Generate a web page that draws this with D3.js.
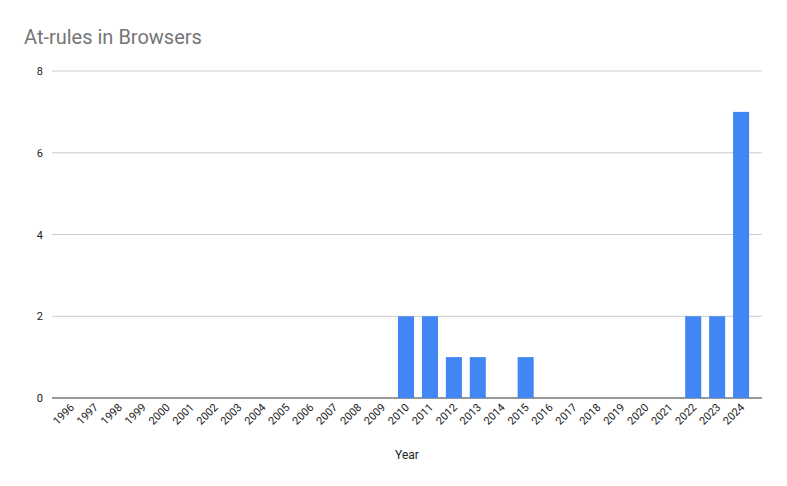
<!DOCTYPE html>
<html>
<head>
<script src="https://d3js.org/d3.v7.min.js"></script>
<style>body{margin:0;background:#fff}</style>
</head>
<body>
<svg id="chart" width="787" height="486"></svg>
<script>
  var years = d3.range(1996, 2025).map(String);
  var counts = [0,0,0,0,0,0,0,0,0,0,0,0,0,0,2,2,1,1,0,1,0,0,0,0,0,0,2,2,7];
  var yTicks = [0, 2, 4, 6, 8];

  var svg = d3.select('#chart');
  var x = d3.scaleBand().domain(years).range([55, 757]).padding(0.33);
  var y = d3.scaleLinear().domain([0, 8]).range([398, 71]);

  svg.append('text').attr('x', 24).attr('y', 44)
    .attr('font-family', 'Roboto, sans-serif').attr('font-size', 20)
    .attr('fill', '#757575').text('At-rules in Browsers');

  svg.append('g').selectAll('line').data(yTicks).enter().append('line')
    .attr('x1', 52).attr('x2', 762)
    .attr('y1', d => y(d)).attr('y2', d => y(d))
    .attr('stroke', d => d == 0 ? '#333' : '#ccc');

  svg.append('g').selectAll('text').data(yTicks).enter().append('text')
    .attr('x', 43).attr('y', d => y(d) + 4).attr('text-anchor', 'end')
    .attr('font-family', 'Roboto, sans-serif').attr('font-size', 11).attr('fill', '#222')
    .text(d => d);

  svg.append('g').selectAll('rect').data(counts).enter().append('rect')
    .attr('x', (d, i) => x(years[i])).attr('width', x.bandwidth())
    .attr('y', d => y(d)).attr('height', d => y(0) - y(d))
    .attr('fill', '#4285f4');

  svg.append('g').selectAll('text').data(years).enter().append('text')
    .attr('transform', d => `translate(${x(d) + x.bandwidth() / 2 + 4},${408}) rotate(-45)`)
    .attr('text-anchor', 'end')
    .attr('font-family', 'Roboto, sans-serif').attr('font-size', 11).attr('fill', '#222')
    .text(d => d);

  svg.append('text').attr('x', 407).attr('y', 459).attr('text-anchor', 'middle')
    .attr('font-family', 'Roboto, sans-serif').attr('font-size', 12).attr('fill', '#222')
    .text('Year');
</script>
</body>
</html>
